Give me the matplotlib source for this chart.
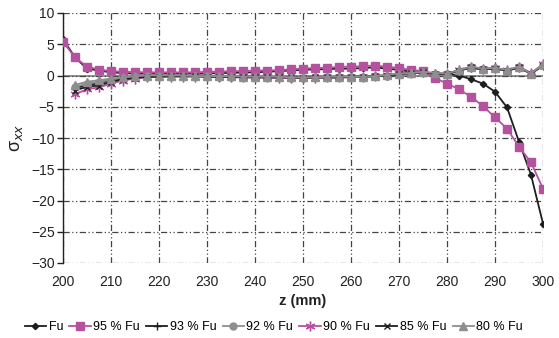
import numpy as np
import matplotlib
matplotlib.use("Agg")
import matplotlib.pyplot as plt

plt.rcParams['font.family'] = ['Liberation Sans', 'DejaVu Sans']
plt.rcParams['mathtext.fontset'] = 'dejavusans'

z = [200 + 2.5 * i for i in range(41)]
nan = np.nan

fu = [5.8, 2.9, 1.1, 0.8, 0.5, 0.4, 0.3, 0.3, 0.3, 0.3, 0.3, 0.3, 0.3, 0.4, 0.4, 0.5,
      0.5, 0.6, 0.7, 0.8, 0.9, 1.0, 1.0, 1.1, 1.1, 1.2, 1.3, 1.1, 0.9, 0.6, 0.4, 0.3,
      0.3, 0.0, -0.6, -1.3, -2.6, -5.1, -10.6, -15.9, -23.7]
fu95 = [5.4, 2.9, 1.4, 0.95, 0.7, 0.6, 0.55, 0.5, 0.5, 0.5, 0.5, 0.5, 0.6, 0.6, 0.7, 0.7,
        0.8, 0.8, 0.85, 1.0, 1.1, 1.2, 1.2, 1.4, 1.4, 1.5, 1.6, 1.4, 1.2, 0.9, 0.7, -0.4,
        -1.3, -2.2, -3.4, -4.9, -6.7, -8.5, -11.4, -13.9, -18.1]
fu93 = [nan, -2.0, -1.6, -1.2, -0.8, -0.5, -0.3, -0.2, -0.1, -0.1, -0.1, -0.1, -0.1, -0.2,
        -0.2, -0.2, -0.2, -0.3, -0.3, -0.3, -0.3, -0.3, -0.3, -0.3, -0.2, -0.2, -0.1, 0.0,
        0.2, 0.4, 0.5, 0.3, 0.2, 0.8, 1.2, 1.0, 1.1, 0.8, 1.2, 0.3, 1.6]
fu92 = [nan, -1.8, -1.3, -1.0, -0.7, -0.4, -0.2, -0.1, -0.1, 0.0, -0.1, -0.1, -0.1, -0.2,
        -0.2, -0.2, -0.3, -0.3, -0.3, -0.4, -0.4, -0.3, -0.3, -0.3, -0.3, -0.2, -0.1, 0.0,
        0.2, 0.4, 0.5, 0.3, 0.3, 0.8, 1.3, 1.0, 1.2, 0.8, 1.3, 0.3, 1.7]
fu90 = [nan, -3.0, -2.2, -1.9, -1.3, -0.8, -0.5, -0.3, -0.2, -0.2, -0.2, -0.2, -0.2, -0.2,
        -0.3, -0.3, -0.3, -0.3, -0.4, -0.4, -0.4, -0.4, -0.3, -0.3, -0.3, -0.2, -0.1, 0.1,
        0.3, 0.4, 0.6, 0.3, 0.3, 0.9, 1.4, 1.1, 1.2, 0.9, 1.4, 0.4, 1.8]
fu85 = [nan, -2.4, -1.8, -1.6, -1.0, -0.6, -0.4, -0.2, -0.2, -0.1, -0.1, -0.1, -0.2, -0.2,
        -0.2, -0.3, -0.3, -0.3, -0.3, -0.3, -0.4, -0.3, -0.3, -0.3, -0.2, -0.2, -0.1, 0.0,
        0.2, 0.4, 0.5, 0.3, 0.2, 0.8, 1.3, 1.0, 1.1, 0.8, 1.3, 0.3, 1.6]
fu80 = [nan, -1.5, -1.0, -0.75, -0.5, -0.3, -0.1, 0.0, 0.0, 0.0, 0.0, -0.1, -0.1, -0.1,
        -0.1, -0.2, -0.2, -0.2, -0.2, -0.3, -0.3, -0.3, -0.2, -0.2, -0.2, -0.2, -0.1, 0.1,
        0.3, 0.4, 0.6, 0.4, 0.3, 0.85, 1.4, 1.1, 1.2, 0.9, 1.4, 0.3, 1.8]

labels = ['Fu', '95 % Fu', '93 % Fu', '92 % Fu', '90 % Fu', '85 % Fu', '80 % Fu']

pink = '#B5529F'
gray = '#8E8E8E'
black = '#1E1E1E'

fig = plt.figure(figsize=(5.59, 3.38), dpi=100)
ax = fig.add_axes([63/559, 1-263/338, 480/559, 250/338])

ax.axhline(0, color='#888888', lw=1.3, zorder=1)

styles = [
    (fu, black, 'D', 3.2),
    (fu95, pink, 's', 5.8),
    (fu93, black, '+', 6),
    (fu92, gray, 'o', 5),
    (fu90, pink, (6, 2, 0), 7),
    (fu85, black, 'x', 5),
    (fu80, gray, '^', 6),
]
handles = []
for (vals, col, mk, ms), lab in zip(styles, labels):
    h, = ax.plot(z, vals, color=col, marker=mk, markersize=ms, lw=1.3,
                 markeredgecolor=col, markerfacecolor=col, markeredgewidth=1.0,
                 label=lab, zorder=3)
    handles.append(h)

ax.set_xlim(200, 300)
ax.set_ylim(-30, 10)
ax.set_xticks(np.arange(200, 301, 10))
ax.set_yticks(np.arange(-30, 11, 5))
ax.grid(True, color='#444444', lw=0.9, linestyle=(0, (5, 2, 1, 2, 1, 2)), zorder=0)
for s in ['top', 'right', 'bottom']:
    ax.spines[s].set_visible(False)
ax.spines['left'].set_color('#222222')
ax.spines['left'].set_linewidth(1.0)
ax.tick_params(axis='y', length=4, width=1, color='#222222', labelsize=10, labelcolor='#222222', pad=2)
ax.tick_params(axis='x', length=0, labelsize=10, labelcolor='#222222', pad=9)

ax.set_xlabel('z (mm)', fontsize=10.5, fontweight='bold', color='#222222', labelpad=3)
ax.set_ylabel('σ$_{xx}$', fontsize=13, color='#222222', labelpad=4)

fig.legend(handles=handles, labels=labels, loc='center', bbox_to_anchor=(0.49, 1-327/338),
           ncol=7, frameon=False, fontsize=9.0, handlelength=1.7, handletextpad=0.2,
           columnspacing=0.5, borderpad=0, borderaxespad=0)

fig.savefig('out.png', dpi=100)
